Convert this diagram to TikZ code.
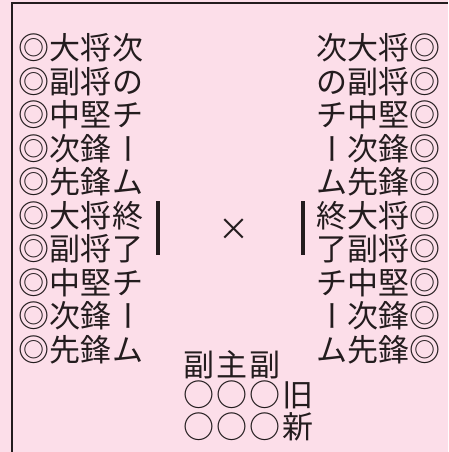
\documentclass[tikz,border=0pt]{standalone}
\usepackage{fontspec}
\newfontfamily\jpfont{Noto Sans CJK JP}
\definecolor{bgpink}{RGB}{252,222,233}
\definecolor{ink}{RGB}{35,28,30}
\begin{document}
\begin{tikzpicture}[x=1pt,y=-1pt,
		jp/.style={inner sep=0pt,text=ink,font=\jpfont\fontsize{31}{31}\selectfont,text height=27.3pt,text depth=3.7pt},
		lower/.style={jp,font=\jpfont\fontsize{31}{31}\selectfont\addfontfeatures{LetterSpace=6.5}},
		upright/.style={},turned/.style={rotate=-90},
		bar/.style={ink,line width=4pt}]
	\fill[bgpink] (0,0) rectangle (448,452);
	\useasboundingbox (0,0) rectangle (448,452);
	\draw[ink,line width=1.5pt] (12,452) -- (12,3) -- (448,3);
	\foreach \role/\kana/\how [count=\i from 0] in {大将/次/upright,副将/の/upright,中堅/チ/upright,次鋒/ー/turned,先鋒/ム/upright,大将/終/upright,副将/了/upright,中堅/チ/upright,次鋒/ー/turned,先鋒/ム/upright}{
		\node[jp,anchor=west] (lrole\i) at (18,48+33.5*\i) {◎\role};
		\node[jp,\how] (lkana\i) at (128,48+33.5*\i) {\kana};
		\node[jp,\how] (rkana\i) at (332,48+33.5*\i) {\kana};
		\node[jp,anchor=east] (rrole\i) at (441,48+33.5*\i) {\role◎};
	}
	\draw[bar] (158,201) -- (158,255);
	\draw[bar] (303,201) -- (303,255);
	\node[jp] (versus) at (234,229) {×};
	\node[lower,anchor=west] (heads) at (183,365) {副主副};
	\node[lower,anchor=west] (oldrow) at (183,395) {○○○旧};
	\node[lower,anchor=west] (newrow) at (183,427) {○○○新};
\end{tikzpicture}
\end{document}
